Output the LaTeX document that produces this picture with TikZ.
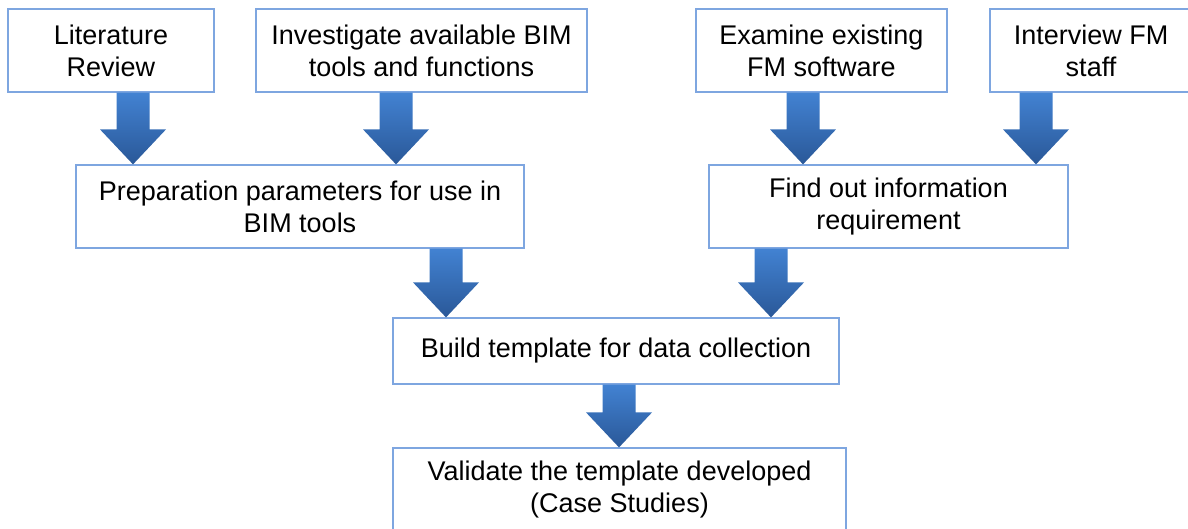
\documentclass[tikz,border=0pt]{standalone}
\usepackage{fontspec}
\setmainfont{Liberation Sans}
\usepackage{tikz}
\usetikzlibrary{calc}
\usepackage{xcolor}
\definecolor{boxline}{RGB}{126,166,224}
\definecolor{arrowtop}{RGB}{66,130,210}
\definecolor{arrowbot}{RGB}{42,88,152}
\newcommand{\blockarrow}[3]{%
  \shade[top color=arrowtop,bottom color=arrowbot]
    ($(#1,0 |- #2.south)+(-16.5,0)$) -- ($(#1,0 |- #3.north)+(-16.5,-35)$)
    -- ($(#1,0 |- #3.north)+(-33,-35)$) -- (#1,0 |- #3.north)
    -- ($(#1,0 |- #3.north)+(33,-35)$) -- ($(#1,0 |- #3.north)+(16.5,-35)$)
    -- ($(#1,0 |- #2.south)+(16.5,0)$) -- cycle;}

\begin{document}
\begin{tikzpicture}[x=0.5pt,y=-0.5pt,font=\fontsize{13.5}{16}\selectfont,
  stage/.style={draw=boxline,line width=0.6pt,fill=white,align=center,inner sep=0pt}]
\useasboundingbox (0,0) rectangle (1188,529);
\node[stage,minimum width=103pt,minimum height=41.5pt] (lit) at (111,50.5) {Literature\\Review};
\node[stage,minimum width=165.5pt,minimum height=41.5pt] (tools) at (421.5,50.5) {Investigate available BIM\\tools and functions};
\node[stage,minimum width=125.5pt,minimum height=41.5pt] (soft) at (821.5,50.5) {Examine existing\\FM software};
\node[stage,minimum width=101pt,minimum height=41.5pt] (staff) at (1091,50.5) {Interview FM\\staff};
\node[stage,minimum width=224pt,minimum height=41.5pt] (prep) at (300,206.5) {Preparation parameters for use in\\BIM tools};
\node[stage,minimum width=179.5pt,minimum height=41.5pt] (info) at (888.5,206.5) {Find out information\\requirement};
\node[stage,minimum width=223pt,minimum height=33pt] (build) at (616,351) {Build template for data collection};
\node[stage,minimum width=226.5pt,minimum height=42pt] (valid) at (619.5,490) {Validate the template developed\\(Case Studies)};
\blockarrow{133}{lit}{prep}
\blockarrow{396}{tools}{prep}
\blockarrow{803}{soft}{info}
\blockarrow{1036}{staff}{info}
\blockarrow{446}{prep}{build}
\blockarrow{771}{info}{build}
\blockarrow{619}{build}{valid}
\end{tikzpicture}
\end{document}
